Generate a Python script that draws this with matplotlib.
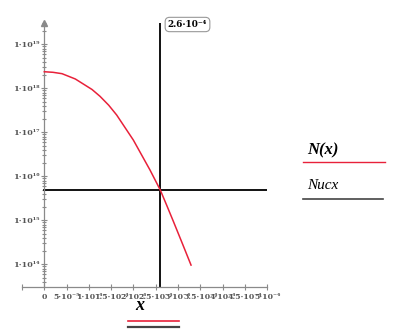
import matplotlib
matplotlib.use('Agg')
import matplotlib.pyplot as plt
from matplotlib.lines import Line2D
from matplotlib.ticker import LogLocator, NullFormatter, FixedLocator

# ---- data ----
x_vals = [0.0, 1.95e-5, 3.97e-5, 6.95e-5, 1.07e-4, 1.249e-4, 1.444e-4, 1.623e-4,
          1.996e-4, 2.37e-4, 2.60e-4, 2.744e-4, 2.893e-4, 3.088e-4, 3.29e-4]
N_vals = [2.38e18, 2.31e18, 2.15e18, 1.63e18, 9.4e17, 6.58e17, 4.13e17, 2.47e17,
          6.68e16, 1.39e16, 4.89e15, 2.2e15, 9.5e14, 3.1e14, 9.6e13]
Nucx = 4.89e15
nucx_x = [0.0, 5e-4]
x_marker = 2.6e-4
x_marker_label = '2.6·10⁻⁴'

x_ticks = [-5e-5, 0, 5e-5, 1e-4, 1.5e-4, 2e-4, 2.5e-4, 3e-4, 3.5e-4, 4e-4, 4.5e-4, 5e-4]
x_ticklabels = ['', '0', '5·10⁻⁵', '1·10⁻⁴', '1.5·10⁻⁴', '2·10⁻⁴', '2.5·10⁻⁴',
                '3·10⁻⁴', '3.5·10⁻⁴', '4·10⁻⁴', '4.5·10⁻⁴', '5·10⁻⁴']
y_ticks = [1e14, 1e15, 1e16, 1e17, 1e18, 1e19]
y_ticklabels = ['1·10¹⁴', '1·10¹⁵', '1·10¹⁶', '1·10¹⁷', '1·10¹⁸', '1·10¹⁹']

RED = '#e8213a'
DARK = '#111111'
GRAY = '#8a8a8a'
TXT = '#555555'

W, H = 402, 332
fig = plt.figure(figsize=(W / 100, H / 100), dpi=100)
ax = fig.add_axes([22 / W, 45 / H, 245.3 / W, 264 / H])
ax.set_yscale('log')
ax.set_xlim(-5e-5, 5e-4)
ax.set_ylim(3.05e13, 3.05e19)

for s in ('top', 'right'):
    ax.spines[s].set_visible(False)
ax.spines['left'].set_position(('data', 0))
ax.spines['left'].set_color(GRAY)
ax.spines['bottom'].set_color(GRAY)
ax.spines['left'].set_linewidth(0.9)
ax.spines['bottom'].set_linewidth(0.9)

ax.xaxis.set_major_locator(FixedLocator(x_ticks))
ax.set_xticklabels(x_ticklabels, fontfamily='DejaVu Serif', fontsize=5.6,
                   fontweight='bold', color=TXT)
ax.yaxis.set_major_locator(FixedLocator(y_ticks))
ax.set_yticklabels(y_ticklabels, fontfamily='DejaVu Serif', fontsize=5.8,
                   fontweight='bold', color=TXT)
ax.yaxis.set_minor_locator(LogLocator(base=10, subs=[2, 3, 4, 5, 6, 7, 8, 9], numticks=20))
ax.yaxis.set_minor_formatter(NullFormatter())
ax.tick_params(axis='both', which='both', direction='inout', color=GRAY, width=0.8)
ax.tick_params(axis='y', which='major', length=4, pad=1)
ax.tick_params(axis='y', which='minor', length=3.5)
ax.tick_params(axis='x', which='major', length=5, pad=2)

# y-axis arrow
ax.plot([0], [3.05e19], marker='^', color=GRAY, markersize=4, clip_on=False, zorder=5)

# traces
ax.plot(x_vals, N_vals, color=RED, lw=1.1, zorder=3)
ax.plot(nucx_x, [Nucx, Nucx], color=DARK, lw=1.4, zorder=2)
ax.axvline(x_marker, color=DARK, lw=1.4, zorder=2)
fig.text(187.5 / W, 1 - 24.5 / H, x_marker_label,
         ha='center', va='center', fontsize=6.4, fontweight='bold', family='DejaVu Serif',
         color='black',
         bbox=dict(boxstyle='round,pad=0.3,rounding_size=0.5', fc='white', ec='#999999', lw=0.8))

# x label and legend samples under it
fig.text(140 / W, 1 - 306 / H, 'x', ha='center', va='center', fontsize=13,
         family='Liberation Serif', style='italic', fontweight='bold')
fig.add_artist(Line2D([128 / W, 179 / W], [1 - 321 / H] * 2, color=RED, lw=1.2))
fig.add_artist(Line2D([128 / W, 179 / W], [1 - 326.5 / H] * 2, color='#444444', lw=1.6))

# right side legend
fig.text(307 / W, 1 - 150 / H, 'N(x)', ha='left', va='center', fontsize=12,
         family='Liberation Serif', style='italic', fontweight='bold')
fig.add_artist(Line2D([303 / W, 385 / W], [1 - 161.5 / H] * 2, color=RED, lw=1.0))
fig.text(307 / W, 1 - 185 / H, 'Nucx', ha='left', va='center', fontsize=11,
         family='Liberation Serif', style='italic')
fig.add_artist(Line2D([303 / W, 383 / W], [1 - 199 / H] * 2, color='#444444', lw=1.2))

fig.savefig('out.png', dpi=100)
